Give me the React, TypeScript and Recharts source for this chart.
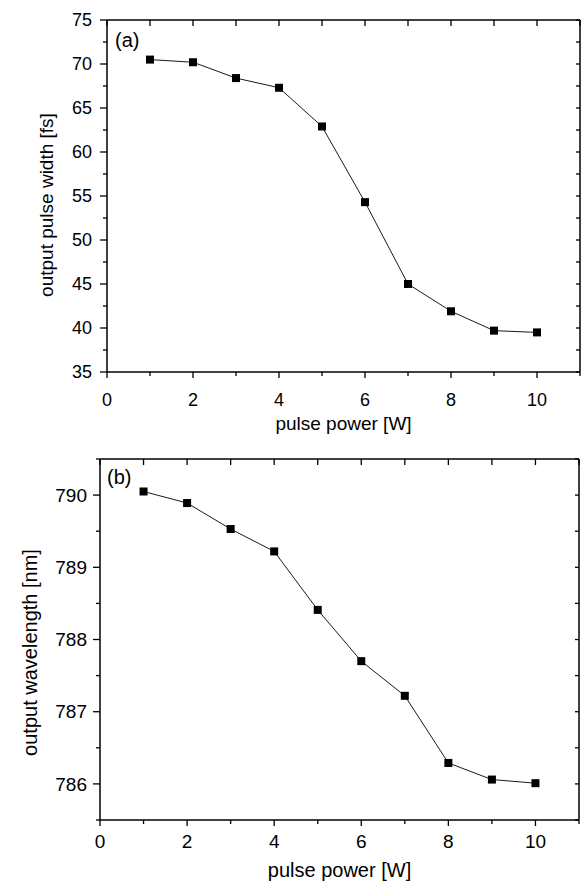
import { LineChart, Line, XAxis, YAxis } from "recharts";

// pulse power [W]
const power = [1, 2, 3, 4, 5, 6, 7, 8, 9, 10];
// panel (a): output pulse width [fs]
const pulseWidth = [70.5, 70.2, 68.4, 67.3, 62.9, 54.3, 45.0, 41.9, 39.7, 39.5];
// panel (b): output wavelength [nm]
const wavelength = [790.05, 789.89, 789.53, 789.22, 788.41, 787.7, 787.22, 786.29, 786.06, 786.01];

const xTicks = [0, 1, 2, 3, 4, 5, 6, 7, 8, 9, 10, 11];
const xLabels = [0, 2, 4, 6, 8, 10];
const widthTicks = [35, 37.5, 40, 42.5, 45, 47.5, 50, 52.5, 55, 57.5, 60, 62.5, 65, 67.5, 70, 72.5, 75];
const widthLabels = [35, 40, 45, 50, 55, 60, 65, 70, 75];
const waveTicks = [785.5, 786, 786.5, 787, 787.5, 788, 788.5, 789, 789.5, 790, 790.5];
const waveLabels = [786, 787, 788, 789, 790];

const FONT = '"Liberation Sans", Arial, Helvetica, sans-serif';
const INK = "#000";

const widthData = power.map((p, i) => ({ power: p, value: pulseWidth[i] }));
const waveData = power.map((p, i) => ({ power: p, value: wavelength[i] }));

const Square = (props: any) => {
  const { cx, cy, index } = props;
  if (cx == null || cy == null) return <g key={index} />;
  return <rect key={index} x={cx - 4} y={cy - 4} width={8} height={8} fill={INK} />;
};

interface PanelProps {
  data: { power: number; value: number }[];
  top: number;
  margin: { top: number; right: number; bottom: number; left: number };
  yWidth: number;
  xHeight: number;
  yDomain: [number, number];
  yTicks: number[];
  yLabels: number[];
  tickFont: number;
  titleFont: number;
  yLabelGap: number;
  xLabelGap: number;
  yTitle: string;
  yTitleX: number;
  yTitleShift: number;
  xTitleY: number;
  tag: string;
  tagX: number;
  tagY: number;
}

function Panel(p: PanelProps) {
  const bottomTick = (props: any) => {
    const { x, y, payload } = props;
    const major = xLabels.includes(payload.value);
    return (
      <g>
        <line x1={x} y1={y} x2={x} y2={y + (major ? 6 : 4)} stroke={INK} strokeWidth={1.3} />
        {major && (
          <text x={x} y={y + p.xLabelGap} textAnchor="middle" fontSize={p.tickFont} fontFamily={FONT} fill={INK}>
            {payload.value}
          </text>
        )}
      </g>
    );
  };

  const leftTick = (props: any) => {
    const { x, y, payload } = props;
    const major = p.yLabels.includes(payload.value);
    return (
      <g>
        <line x1={x - (major ? 7 : 4)} y1={y} x2={x} y2={y} stroke={INK} strokeWidth={1.3} />
        {major && (
          <text x={x - p.yLabelGap} y={y} dy="0.35em" textAnchor="end" fontSize={p.tickFont} fontFamily={FONT} fill={INK}>
            {payload.value}
          </text>
        )}
      </g>
    );
  };

  const topTick = (props: any) => {
    const { x, y } = props;
    return <line x1={x} y1={y} x2={x} y2={y + 6} stroke={INK} strokeWidth={1.3} />;
  };

  const rightTick = (props: any) => {
    const { x, y } = props;
    return <line x1={x - 4} y1={y} x2={x} y2={y} stroke={INK} strokeWidth={1.3} />;
  };

  const xTitle = (props: any) => {
    const vb = props.viewBox;
    return (
      <text x={vb.x + vb.width / 2} y={vb.y + p.xTitleY} textAnchor="middle" fontSize={p.titleFont} fontFamily={FONT} fill={INK}>
        pulse power [W]
      </text>
    );
  };

  const yTitle = (props: any) => {
    const vb = props.viewBox;
    const cx = vb.x + p.yTitleX;
    const cy = vb.y + vb.height / 2 + p.yTitleShift;
    return (
      <text
        x={cx}
        y={cy}
        dy="0.35em"
        transform={`rotate(-90 ${cx} ${cy})`}
        textAnchor="middle"
        fontSize={p.titleFont}
        fontFamily={FONT}
        fill={INK}
      >
        {p.yTitle}
      </text>
    );
  };

  const tagLabel = (props: any) => {
    const vb = props.viewBox;
    return (
      <text x={vb.x + p.tagX} y={vb.y + vb.height + p.tagY} fontSize={20} fontFamily={FONT} fill={INK}>
        {p.tag}
      </text>
    );
  };

  const axisLine = { stroke: INK, strokeWidth: 1.5 };

  return (
    <div style={{ position: "absolute", left: 0, top: p.top }}>
      <LineChart width={586} height={441} data={p.data} margin={p.margin}>
        <XAxis
          dataKey="power"
          type="number"
          domain={[0, 11]}
          ticks={xTicks}
          interval={0}
          height={p.xHeight}
          tickSize={0}
          tickMargin={0}
          tickLine={false}
          axisLine={axisLine}
          tick={bottomTick}
          label={xTitle}
          allowDataOverflow
        />
        <XAxis
          xAxisId="top"
          orientation="top"
          dataKey="power"
          type="number"
          domain={[0, 11]}
          ticks={xTicks}
          interval={0}
          height={1}
          tickSize={0}
          tickMargin={0}
          tickLine={false}
          axisLine={axisLine}
          tick={topTick}
          label={tagLabel}
          allowDataOverflow
        />
        <YAxis
          type="number"
          domain={p.yDomain}
          ticks={p.yTicks}
          interval={0}
          width={p.yWidth}
          tickSize={0}
          tickMargin={0}
          tickLine={false}
          axisLine={axisLine}
          tick={leftTick}
          label={yTitle}
          allowDataOverflow
        />
        <YAxis
          yAxisId="right"
          orientation="right"
          type="number"
          domain={p.yDomain}
          ticks={p.yTicks}
          interval={0}
          width={1}
          tickSize={0}
          tickMargin={0}
          tickLine={false}
          axisLine={axisLine}
          tick={rightTick}
          allowDataOverflow
        />
        {/* invisible series so the frame axes have data bound to them */}
        <Line
          xAxisId="top"
          yAxisId="right"
          dataKey="value"
          stroke="none"
          dot={false}
          activeDot={false}
          legendType="none"
          isAnimationActive={false}
        />
        <Line
          dataKey="value"
          stroke="#1a1a1a"
          strokeWidth={1}
          dot={Square}
          activeDot={false}
          isAnimationActive={false}
        />
      </LineChart>
    </div>
  );
}

export default function App() {
  return (
    <div
      style={{
        position: "absolute",
        left: 0,
        top: 0,
        width: 586,
        height: 882,
        background: "#fff",
        fontFamily: FONT,
      }}
    >
      <Panel
        data={widthData}
        top={0}
        margin={{ top: 19, right: 5, bottom: 0, left: 0 }}
        yWidth={107}
        xHeight={69}
        yDomain={[35, 75]}
        yTicks={widthTicks}
        yLabels={widthLabels}
        tickFont={18}
        titleFont={19}
        yLabelGap={15}
        xLabelGap={34}
        yTitle="output pulse width [fs]"
        yTitleX={46}
        yTitleShift={9}
        xTitleY={58}
        tag="(a)"
        tagX={8}
        tagY={27}
      />
      <Panel
        data={waveData}
        top={441}
        margin={{ top: 17, right: 6, bottom: 0, left: 0 }}
        yWidth={100}
        xHeight={62}
        yDomain={[785.5, 790.5]}
        yTicks={waveTicks}
        yLabels={waveLabels}
        tickFont={19}
        titleFont={20}
        yLabelGap={13}
        xLabelGap={28}
        yTitle="output wavelength [nm]"
        yTitleX={30}
        yTitleShift={13}
        xTitleY={57}
        tag="(b)"
        tagX={7}
        tagY={25}
      />
    </div>
  );
}
